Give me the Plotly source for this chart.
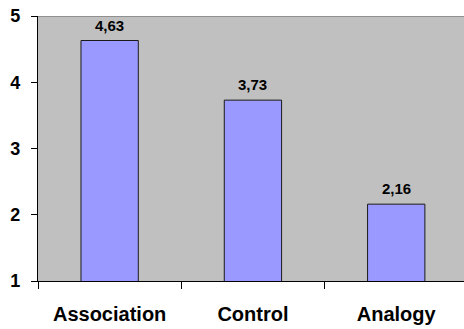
import plotly.graph_objects as go

categories = ["Association", "Control", "Analogy"]
values = [4.63, 3.73, 2.16]
value_labels = ["4,63", "3,73", "2,16"]
y_ticks = [1, 2, 3, 4, 5]

FONT = "Liberation Sans, Arial, sans-serif"

fig = go.Figure()
fig.add_trace(go.Bar(
    x=categories,
    y=values,
    width=0.4,
    marker=dict(color="#9999FF", line=dict(color="#1a1a1a", width=1)),
    hoverinfo="skip",
))

# value labels above each bar
for cat, val, lab in zip(categories, values, value_labels):
    fig.add_annotation(
        x=cat, y=val, text="<b>%s</b>" % lab, showarrow=False,
        yanchor="bottom", yshift=5,
        font=dict(family=FONT, size=15, color="#000"),
    )

# thin gray frame line along the top of the plot area
fig.add_shape(type="line", xref="paper", yref="y", x0=0, x1=1, y0=5, y1=5,
              line=dict(color="#808080", width=1.5))

fig.update_layout(
    width=464, height=329,
    margin=dict(l=38, r=0, t=16, b=48),
    paper_bgcolor="#FFFFFF",
    plot_bgcolor="#C0C0C0",
    showlegend=False,
    bargap=0.6,
)
fig.update_xaxes(
    range=[-0.5, 2.473],
    showgrid=False, zeroline=False,
    showline=True, linecolor="#000", linewidth=1.2,
    ticks="outside", tickson="boundaries", ticklen=7, tickcolor="#000", tickwidth=1,
    tickfont=dict(family=FONT, size=20, color="#000", weight="bold"),
    ticklabelstandoff=15,
)
fig.update_yaxes(
    range=[1, 5],
    tickvals=y_ticks,
    showgrid=False, zeroline=False,
    showline=True, linecolor="#000", linewidth=1.2,
    ticks="outside", ticklen=6, tickcolor="#000", tickwidth=1,
    tickfont=dict(family=FONT, size=18, color="#000", weight="bold"),
    ticklabelstandoff=7,
)

fig.write_html("out.html")
